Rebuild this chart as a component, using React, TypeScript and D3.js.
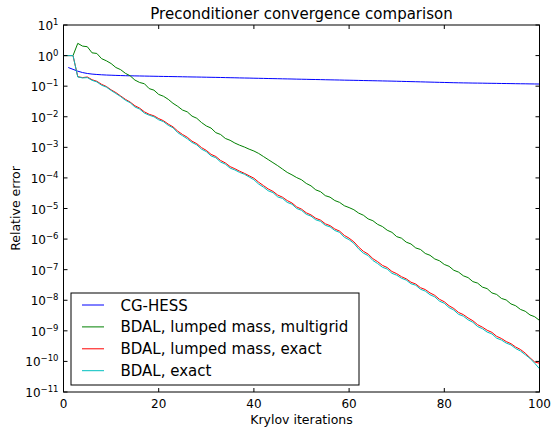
import React from 'react';
import * as d3 from 'd3';

// log10 of relative error, one value per Krylov iteration
const cgHessLog = [
  -0.390, -0.450, -0.510, -0.555, -0.585, -0.605, -0.618, -0.628, -0.636, -0.642,
  -0.648, -0.653, -0.658, -0.661, -0.664, -0.667, -0.670, -0.673, -0.676, -0.679,
  -0.682, -0.684, -0.687, -0.690, -0.693, -0.696, -0.699, -0.701, -0.704, -0.707,
  -0.710, -0.713, -0.716, -0.720, -0.723, -0.726, -0.730, -0.733, -0.736, -0.740,
  -0.743, -0.746, -0.750, -0.753, -0.756, -0.760, -0.763, -0.766, -0.770, -0.773,
  -0.776, -0.780, -0.783, -0.786, -0.790, -0.793, -0.796, -0.799, -0.803, -0.806,
  -0.809, -0.812, -0.816, -0.819, -0.822, -0.825, -0.829, -0.832, -0.835, -0.839,
  -0.843, -0.847, -0.851, -0.855, -0.859, -0.863, -0.867, -0.871, -0.875, -0.879,
  -0.883, -0.887, -0.890, -0.893, -0.895, -0.898, -0.900, -0.902, -0.905, -0.907,
  -0.909, -0.912, -0.914, -0.916, -0.919, -0.921, -0.923, -0.926, -0.928, -0.930,
];
const cgHessStart = 1;

const multigridLog = [
  0, 0, 0, 0.40, 0.31, 0.29, 0.09, 0.07, -0.10, -0.17,
  -0.26, -0.39, -0.46, -0.58, -0.66, -0.80, -0.88, -0.92, -1.08, -1.13,
  -1.27, -1.33, -1.43, -1.56, -1.66, -1.78, -1.84, -1.98, -2.05, -2.19,
  -2.30, -2.37, -2.52, -2.58, -2.71, -2.77, -2.86, -2.93, -2.99, -3.06,
  -3.12, -3.20, -3.30, -3.40, -3.50, -3.60, -3.71, -3.82, -3.90, -3.99,
  -4.06, -4.18, -4.26, -4.39, -4.45, -4.58, -4.63, -4.74, -4.80, -4.91,
  -4.97, -5.04, -5.15, -5.22, -5.34, -5.40, -5.52, -5.59, -5.71, -5.78,
  -5.92, -5.97, -6.10, -6.16, -6.29, -6.34, -6.47, -6.53, -6.65, -6.71,
  -6.83, -6.89, -7.02, -7.08, -7.20, -7.26, -7.39, -7.44, -7.57, -7.62,
  -7.76, -7.81, -7.94, -7.99, -8.12, -8.18, -8.30, -8.36, -8.48, -8.54,
  -8.66,
];

const lumpedExactLog = [
  0, 0, 0, -0.69, -0.72, -0.70, -0.79, -0.84, -0.94, -1.01,
  -1.12, -1.21, -1.32, -1.43, -1.52, -1.64, -1.72, -1.84, -1.92, -1.97,
  -2.06, -2.13, -2.24, -2.33, -2.47, -2.58, -2.67, -2.80, -2.88, -3.01,
  -3.10, -3.23, -3.30, -3.43, -3.51, -3.63, -3.70, -3.78, -3.85, -3.93,
  -4.01, -4.14, -4.25, -4.36, -4.44, -4.56, -4.63, -4.74, -4.82, -4.95,
  -5.02, -5.14, -5.21, -5.32, -5.38, -5.50, -5.56, -5.67, -5.74, -5.88,
  -5.97, -6.09, -6.26, -6.40, -6.49, -6.64, -6.74, -6.86, -6.93, -7.06,
  -7.13, -7.23, -7.30, -7.41, -7.47, -7.59, -7.65, -7.76, -7.84, -7.97,
  -8.05, -8.18, -8.27, -8.40, -8.47, -8.58, -8.67, -8.80, -8.88, -8.98,
  -9.05, -9.18, -9.25, -9.35, -9.42, -9.53, -9.61, -9.73, -9.88, -10.02,
  -10.06,
];

const exactLog = [
  0, 0, 0, -0.70, -0.73, -0.72, -0.81, -0.86, -0.97, -1.03,
  -1.14, -1.24, -1.34, -1.46, -1.54, -1.68, -1.75, -1.88, -1.95, -2.00,
  -2.10, -2.16, -2.28, -2.36, -2.52, -2.62, -2.72, -2.84, -2.92, -3.06,
  -3.14, -3.28, -3.34, -3.48, -3.55, -3.68, -3.74, -3.82, -3.88, -3.97,
  -4.06, -4.20, -4.30, -4.42, -4.48, -4.62, -4.67, -4.80, -4.86, -5.00,
  -5.06, -5.19, -5.25, -5.37, -5.42, -5.55, -5.60, -5.72, -5.78, -5.94,
  -6.02, -6.14, -6.32, -6.46, -6.54, -6.70, -6.80, -6.92, -6.98, -7.12,
  -7.18, -7.28, -7.34, -7.46, -7.51, -7.64, -7.70, -7.82, -7.89, -8.03,
  -8.10, -8.24, -8.32, -8.46, -8.52, -8.64, -8.72, -8.86, -8.93, -9.04,
  -9.10, -9.24, -9.30, -9.40, -9.46, -9.58, -9.66, -9.78, -9.90, -10.06,
  -10.24,
];

const seriesNames = [
  'CG-HESS',
  'BDAL, lumped mass, multigrid',
  'BDAL, lumped mass, exact',
  'BDAL, exact',
];
const seriesColors = ['#0000ff', '#008000', '#ff0000', '#00bfbf'];

const xTicks = [0, 20, 40, 60, 80, 100];
const yExponents = [1, 0, -1, -2, -3, -4, -5, -6, -7, -8, -9, -10, -11];

const FONT = '"DejaVu Sans", sans-serif';

function toPoints(logs: number[], start: number) {
  return logs.map((e, i) => ({ x: start + i, y: Math.pow(10, e) }));
}

export default function App() {
  const width = 552;
  const height = 427;
  const margin = { top: 25, right: 12.5, bottom: 35, left: 63.5 };
  const x0 = margin.left;
  const x1 = width - margin.right;
  const y0 = margin.top;
  const y1 = height - margin.bottom;

  const xScale = d3.scaleLinear().domain([0, 100]).range([x0, x1]);
  const yScale = d3.scaleLog().domain([1e-11, 1e1]).range([y1, y0]);

  const line = d3
    .line<{ x: number; y: number }>()
    .x(d => xScale(d.x))
    .y(d => yScale(d.y));

  const series = [
    toPoints(cgHessLog, cgHessStart),
    toPoints(multigridLog, 0),
    toPoints(lumpedExactLog, 0),
    toPoints(exactLog, 0),
  ];

  const tickLen = 4;

  // legend box
  const lg = { x: 71, y: 293, w: 288, h: 92, rowH: 21.9 };

  return (
    <svg
      width={width}
      height={height}
      style={{ position: 'absolute', left: 0, top: 0, background: '#fff' }}
      fontFamily={FONT}
    >
      <rect x={0} y={0} width={width} height={height} fill="#fff" />

      {/* title */}
      <text x={(x0 + x1) / 2} y={19} textAnchor="middle" fontSize={15} fill="#000">
        Preconditioner convergence comparison
      </text>

      {/* series */}
      <g>
        {series.map((pts, i) => (
          <path
            key={seriesNames[i]}
            d={line(pts) || ''}
            fill="none"
            stroke={seriesColors[i]}
            strokeWidth={1}
          />
        ))}
      </g>

      {/* x ticks */}
      {xTicks.map(t => (
        <g key={'x' + t}>
          <line x1={xScale(t)} x2={xScale(t)} y1={y1} y2={y1 - tickLen} stroke="#000" />
          <line x1={xScale(t)} x2={xScale(t)} y1={y0} y2={y0 + tickLen} stroke="#000" />
          <text x={xScale(t)} y={y1 + 16} textAnchor="middle" fontSize={12} fill="#000">
            {t}
          </text>
        </g>
      ))}

      {/* y ticks */}
      {yExponents.map(e => {
        const yy = yScale(Math.pow(10, e));
        return (
          <g key={'y' + e}>
            <line x1={x0} x2={x0 + tickLen} y1={yy} y2={yy} stroke="#000" />
            <line x1={x1} x2={x1 - tickLen} y1={yy} y2={yy} stroke="#000" />
            <text x={x0 - 5} y={yy + 5} textAnchor="end" fontSize={12} fill="#000">
              10
              <tspan dy={-5} fontSize={8.5}>
                {e < 0 ? '\u2212' + Math.abs(e) : String(e)}
              </tspan>
            </text>
          </g>
        );
      })}

      {/* frame */}
      <rect x={x0} y={y0} width={x1 - x0} height={y1 - y0} fill="none" stroke="#000" strokeWidth={1} />

      {/* axis labels */}
      <text x={(x0 + x1) / 2} y={424} textAnchor="middle" fontSize={12.5} fill="#000">
        Krylov iterations
      </text>
      <text
        transform={`translate(20,${(y0 + y1) / 2}) rotate(-90)`}
        textAnchor="middle"
        fontSize={12.5}
        fill="#000"
      >
        Relative error
      </text>

      {/* legend */}
      <g>
        <rect x={lg.x} y={lg.y} width={lg.w} height={lg.h} fill="#fff" stroke="#000" strokeWidth={1} />
        {seriesNames.map((name, i) => {
          const cy = lg.y + 12 + i * lg.rowH;
          return (
            <g key={'lg' + name}>
              <line x1={82} x2={104} y1={cy} y2={cy} stroke={seriesColors[i]} strokeWidth={1} />
              <text x={120.5} y={cy + 5.5} fontSize={15} fill="#000">
                {name}
              </text>
            </g>
          );
        })}
      </g>
    </svg>
  );
}
